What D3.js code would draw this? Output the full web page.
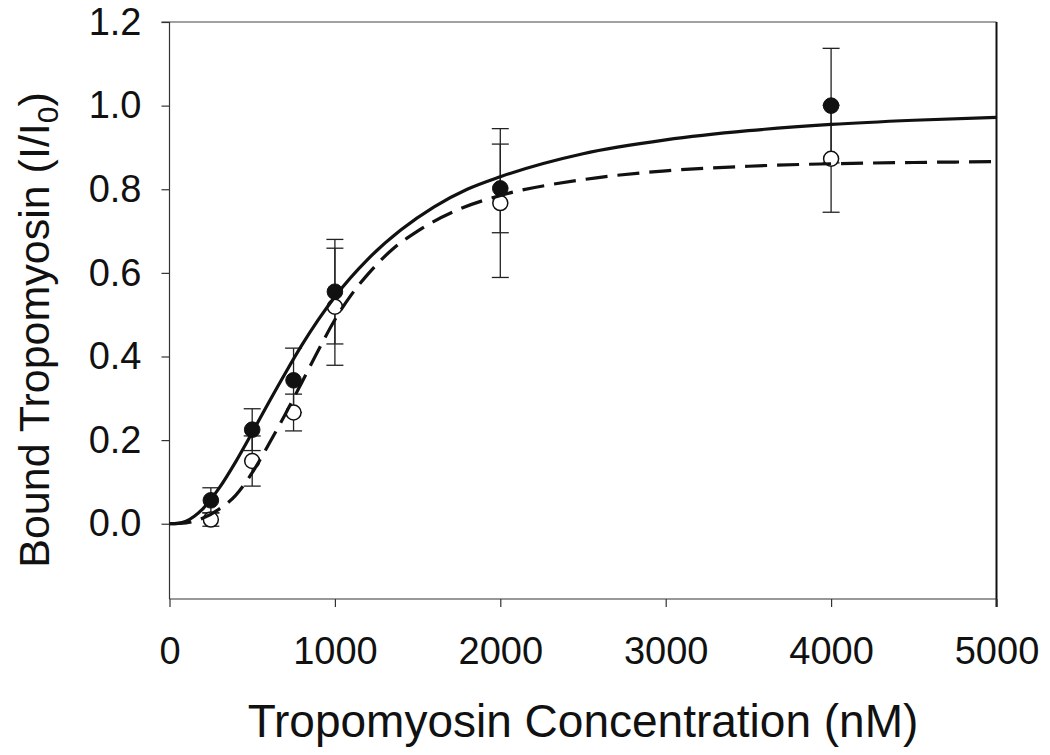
<!DOCTYPE html>
<html>
<head>
<meta charset="utf-8">
<script src="https://cdn.jsdelivr.net/npm/d3@7"></script>
<style>
  html, body { margin: 0; padding: 0; background: #fff; }
  svg { display: block; font-family: "Liberation Sans", Arial, sans-serif; }
</style>
</head>
<body>
<svg id="chart" width="1050" height="755"></svg>
<script>
// ---- data ----
const concentrations = [250, 500, 750, 1000, 2000, 4000];
const filledValues   = [0.056, 0.225, 0.343, 0.555, 0.802, 1.000];
const filledErrors   = [0.030, 0.050, 0.077, 0.125, 0.106, 0.137];
const openValues     = [0.010, 0.150, 0.266, 0.519, 0.767, 0.873];
const openErrors     = [0.016, 0.060, 0.044, 0.140, 0.178, 0.128];

// fitted curves
const solidFitX = [0, 50, 100, 150, 200, 300, 400, 500, 600, 700, 800, 900, 1000, 1200, 1400, 1600, 1800, 2000, 2500, 3000, 3500, 4000, 4500, 5000];
const solidFitY = [0, 0.001, 0.006, 0.018, 0.035, 0.085, 0.148, 0.218, 0.29, 0.36, 0.427, 0.488, 0.543, 0.633, 0.703, 0.758, 0.8, 0.83, 0.885, 0.918, 0.94, 0.955, 0.965, 0.972];
const dashFitX  = [0, 100, 150, 200, 300, 400, 500, 600, 700, 800, 900, 1000, 1100, 1200, 1350, 1500, 1750, 2000, 2500, 3000, 3500, 4000, 4500, 5000];
const dashFitY  = [0, 0.002, 0.006, 0.013, 0.035, 0.068, 0.122, 0.19, 0.262, 0.338, 0.415, 0.488, 0.548, 0.597, 0.657, 0.7, 0.752, 0.785, 0.823, 0.844, 0.855, 0.861, 0.864, 0.866];

const xTickValues = [0, 1000, 2000, 3000, 4000, 5000];
const yTickValues = [0.0, 0.2, 0.4, 0.6, 0.8, 1.0, 1.2];

const xTitle = "Tropomyosin Concentration (nM)";

// ---- layout ----
const svg = d3.select("#chart");
const pLeft = 169.5, pRight = 996.5, pTop = 22, pBottom = 599;

const x = d3.scaleLinear().domain([0, 5000]).range([pLeft, pRight]);
const y = d3.scaleLinear().domain([-0.18, 1.2]).range([pBottom, pTop]);

// frame: top and right borders
svg.append("line").attr("x1", pLeft - 8).attr("x2", pRight).attr("y1", y(1.2)).attr("y2", y(1.2))
  .attr("stroke", "#444").attr("stroke-width", 1.2);
svg.append("line").attr("x1", pRight).attr("x2", pRight).attr("y1", pTop).attr("y2", pBottom + 8)
  .attr("stroke", "#111").attr("stroke-width", 2);

// axes
const xAxis = d3.axisBottom(x).tickValues(xTickValues).tickSize(8).tickPadding(30).tickFormat(d3.format("d"));
const yAxis = d3.axisLeft(y).tickValues(yTickValues).tickSize(8).tickPadding(20).tickFormat(d3.format(".1f"));

const gx = svg.append("g").attr("transform", `translate(0,${pBottom})`).call(xAxis);
const gy = svg.append("g").attr("transform", `translate(${pLeft},0)`).call(yAxis);

[gx, gy].forEach(g => {
  g.select(".domain").attr("stroke", "#333").attr("stroke-width", 1.2);
  g.selectAll(".tick line").attr("stroke", "#333").attr("stroke-width", 1.2);
  g.selectAll(".tick text").attr("fill", "#111").style("font-size", "38px")
   .style("font-family", "'Liberation Sans', Arial, sans-serif");
});
gy.select(".domain").attr("d", `M0,${pBottom}V${pTop}`);
gx.select(".domain").attr("d", `M${pLeft},0H${pRight}`);

// titles
svg.append("text").attr("x", 583).attr("y", 737).attr("text-anchor", "middle")
  .style("font-size", "46px").attr("fill", "#111").text(xTitle);

const yt = svg.append("text").attr("transform", "translate(49,330) rotate(-90)")
  .attr("text-anchor", "middle").style("font-size", "43px").attr("fill", "#111");
yt.append("tspan").text("Bound Tropomyosin (I/I");
yt.append("tspan").attr("dy", 9).style("font-size", "30px").text("0");
yt.append("tspan").attr("dy", -9).text(")");

// error bars
function errorBars(vals, errs) {
  const g = svg.append("g").attr("stroke", "#222").attr("stroke-width", 1.3);
  concentrations.forEach((c, i) => {
    const cx = x(c), y1 = y(vals[i] + errs[i]), y0 = y(vals[i] - errs[i]);
    g.append("line").attr("x1", cx).attr("x2", cx).attr("y1", y1).attr("y2", y0);
    g.append("line").attr("x1", cx - 8.5).attr("x2", cx + 8.5).attr("y1", y1).attr("y2", y1);
    g.append("line").attr("x1", cx - 8.5).attr("x2", cx + 8.5).attr("y1", y0).attr("y2", y0);
  });
}
errorBars(openValues, openErrors);
errorBars(filledValues, filledErrors);

// markers
svg.append("g").selectAll("circle").data(concentrations).join("circle")
  .attr("cx", d => x(d)).attr("cy", (d, i) => y(openValues[i])).attr("r", 7.5)
  .attr("fill", "#fff").attr("stroke", "#111").attr("stroke-width", 1.5);
svg.append("g").selectAll("circle").data(concentrations).join("circle")
  .attr("cx", d => x(d)).attr("cy", (d, i) => y(filledValues[i])).attr("r", 7.8)
  .attr("fill", "#111").attr("stroke", "#111").attr("stroke-width", 1);

// curves
const line = d3.line().x(d => x(d[0])).y(d => y(d[1])).curve(d3.curveMonotoneX);
svg.append("path").attr("d", line(solidFitX.map((v, i) => [v, solidFitY[i]])))
  .attr("fill", "none").attr("stroke", "#111").attr("stroke-width", 3.2);
svg.append("path").attr("d", line(dashFitX.map((v, i) => [v, dashFitY[i]])))
  .attr("fill", "none").attr("stroke", "#111").attr("stroke-width", 3.2)
  .attr("stroke-dasharray", "22,10");
</script>
</body>
</html>
